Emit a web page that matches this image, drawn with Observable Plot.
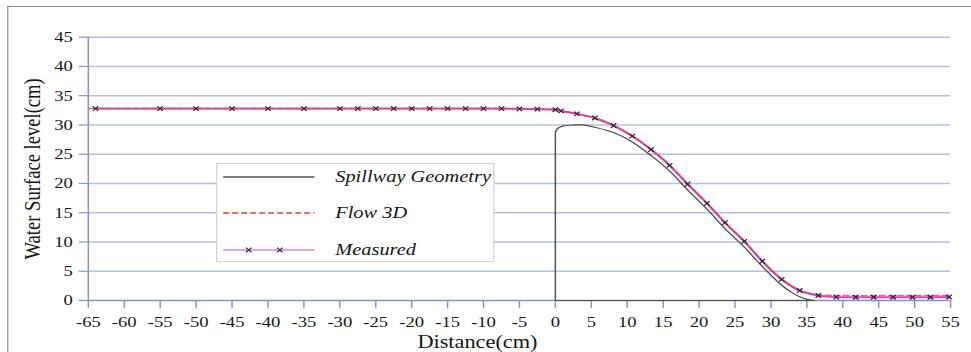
<!DOCTYPE html>
<html>
<head>
<meta charset="utf-8">
<script src="https://cdn.jsdelivr.net/npm/d3@7"></script>
<script src="https://cdn.jsdelivr.net/npm/@observablehq/plot@0.6"></script>
<style>
  html, body { margin: 0; padding: 0; background: #fff; overflow: hidden; }
  #wrap { position: absolute; left: 0; top: 0; height: 352px; transform-origin: 0 0; }
  #frame { position: absolute; left: 6px; top: 6px; width: 900px; height: 400px;
           border-left: 1.5px solid #8a8a8a; border-top: 1.5px solid #8a8a8a; }
  #chart { position: absolute; left: 0; top: 0; }
  #legend { position: absolute; background: #fff; border: 1px solid #d4d4d4; box-sizing: border-box;
            font-family: "Liberation Serif", "Times New Roman", serif; font-style: italic; font-size: 17px; color: #161616; }
  .row { position: absolute; left: 0; display: flex; align-items: center; height: 20px; }
  .row svg { display: block; }
  .row span { position: absolute; white-space: nowrap; }
</style>
</head>
<body>
<div id="wrap">
  <div id="frame"></div>
  <div id="chart"></div>
  <div id="legend"></div>
</div>
<script>
// Axis ticks
const xTicks = [-65, -60, -55, -50, -45, -40, -35, -30, -25, -20, -15, -10, -5, 0, 5, 10, 15, 20, 25, 30, 35, 40, 45, 50, 55];
const yTicks = [0, 5, 10, 15, 20, 25, 30, 35, 40, 45];
const xTitle = "Distance(cm)";
const yTitle = "Water Surface level(cm)";

// Spillway crest profile (cm): upstream face, crest, downstream face, back along the floor
const geomX = [0, 0, 0.3, 1.0, 2.4, 3.8, 5.5, 8.1, 10.7, 13.3, 15.9, 18.4, 21.1, 23.6, 26.3, 28.8, 31.5, 33.0, 34.0, 35.0, 36.0, 0];
const geomY = [0, 28.8, 29.4, 29.8, 30.0, 30.0, 29.6, 28.7, 27.1, 24.8, 22.1, 18.9, 15.6, 12.3, 9.1, 5.8, 2.6, 1.3, 0.65, 0.2, 0, 0];

// Flow 3D simulated water surface (cm)
const flowX = [-65, -50, -30, -10, -2, 0, 2, 4, 6, 8, 10, 12, 14, 16, 18, 20, 22, 24, 26, 28, 30, 32, 34, 36, 38, 40, 45, 50, 55];
const flowY = [32.8, 32.8, 32.8, 32.8, 32.75, 32.6, 32.15, 31.6, 30.95, 29.95, 28.6, 27.0, 25.2, 23.0, 20.4, 18.0, 15.5, 12.8, 10.4, 7.8, 5.3, 3.2, 1.8, 1.05, 0.9, 0.85, 0.85, 0.85, 0.85];

// Measured water surface (cm)
const measX = [-64, -55, -50, -45, -40, -35, -30, -27.5, -25, -22.5, -20, -17.5, -15, -12.5, -10, -7.5, -5, -2.5,
               0, 0.8, 3.0, 5.5, 8.1, 10.7, 13.3, 15.9, 18.4, 21.1, 23.6, 26.3, 28.8, 31.5, 34.0, 36.6, 39.1, 41.8, 44.3, 47.0, 49.7, 52.2, 54.8];
const measY = [32.8, 32.8, 32.8, 32.8, 32.8, 32.8, 32.8, 32.8, 32.8, 32.8, 32.8, 32.8, 32.8, 32.8, 32.8, 32.8, 32.75, 32.7,
               32.6, 32.4, 31.9, 31.2, 29.9, 28.1, 25.8, 23.1, 19.9, 16.6, 13.3, 10.1, 6.7, 3.6, 1.7, 0.85, 0.57, 0.55, 0.55, 0.55, 0.55, 0.55, 0.6];

const seriesNames = ["Spillway Geometry", "Flow 3D", "Measured"];

const STRETCH = 1.2;          // the figure is drawn slightly wider than tall
const W = 971 / STRETCH;
const H = 352;
const SERIF = "'Liberation Serif', 'Times New Roman', serif";
const AXIS = "#8492c6";
const GRID = "#b6bee0";
const GEOM = "#4d4d4d";
const FLOW = "#e4402e";
const MEAS = "#cf48c9";
const MARK = "#3c2448";

const zip = (xs, ys) => xs.map((x, i) => ({x, y: ys[i]}));
const geom = zip(geomX, geomY);
const crest = geom.slice(1, geom.length - 1);                         // curved profile
const edges = [geom[geom.length - 2], geom[0], geom[1]];             // floor + upstream wall
const flow = zip(flowX, flowY);
const meas = zip(measX, measY);

const wrap = document.getElementById("wrap");
wrap.style.width = W + "px";
wrap.style.transform = `scaleX(${STRETCH})`;

const chart = Plot.plot({
  width: W,
  height: H,
  marginLeft: 73.1,
  marginRight: 17.5,
  marginTop: 36.7,
  marginBottom: 52,
  x: {domain: [-65, 55]},
  y: {domain: [0, 45]},
  style: {fontFamily: SERIF, fontSize: "15.5px", color: "#161616", background: "transparent"},
  marks: [
    Plot.gridY({ticks: yTicks.filter(v => v > 0), stroke: GRID, strokeOpacity: 1, strokeWidth: 1.6}),
    Plot.axisX({ticks: xTicks, tickSize: 8, tickPadding: 7.5, stroke: AXIS, strokeWidth: 1.2, tickFormat: String, label: null}),
    Plot.axisY({ticks: yTicks, tickSize: 7.5, tickPadding: 5.5, stroke: AXIS, strokeWidth: 1.2, tickFormat: String, label: null}),
    Plot.ruleY([0], {stroke: AXIS, strokeWidth: 1.3}),
    Plot.ruleX([-65], {stroke: AXIS, strokeWidth: 1.3}),
    Plot.line(edges, {x: "x", y: "y", stroke: GEOM, strokeWidth: 1.2}),
    Plot.line(crest, {x: "x", y: "y", stroke: GEOM, strokeWidth: 1.2, curve: "catmull-rom"}),
    Plot.line(meas, {x: "x", y: "y", stroke: MEAS, strokeWidth: 2, curve: "catmull-rom"}),
    Plot.line(flow, {x: "x", y: "y", stroke: FLOW, strokeWidth: 1.3, strokeDasharray: "5,2.5", strokeOpacity: 0.75, curve: "catmull-rom"}),
    Plot.dot(meas, {x: "x", y: "y", symbol: "times", r: 2.2, stroke: MARK, strokeWidth: 1.2}),
    Plot.text([yTitle], {text: d => d, frameAnchor: "left", textAnchor: "middle", lineAnchor: "middle",
                         dx: -46.4, rotate: -90}),
    Plot.text([xTitle], {text: d => d, frameAnchor: "bottom", textAnchor: "middle", lineAnchor: "middle",
                         dx: -35, dy: 42})
  ]
});
// Typeface and sizes for every label in the figure
d3.select(chart).selectAll("text").each(function() {
  const isTitle = this.textContent === xTitle || this.textContent === yTitle;
  this.style.fontFamily = SERIF;
  this.style.fontSize = isTitle ? "18.6px" : "15.5px";
  this.style.fill = "#161616";
});
document.getElementById("chart").append(chart);

// Legend box drawn over the plot area
const legend = d3.select("#legend")
  .style("left", "179.75px").style("top", "163.3px")
  .style("width", "232.2px").style("height", "98.4px");
const rowY = [12.4, 49, 86];
const styles = [
  {stroke: GEOM, width: 1.4, dash: null, marks: false},
  {stroke: FLOW, width: 1.6, dash: "5,2.5", marks: false},
  {stroke: MEAS, width: 1.1, dash: null, marks: true}
];
seriesNames.forEach((name, i) => {
  const row = legend.append("div").attr("class", "row").style("top", (rowY[i] - 10) + "px").style("width", "232px");
  const svg = row.append("svg").attr("width", 86).attr("height", 20);
  const ln = svg.append("line").attr("x1", 5).attr("x2", 81).attr("y1", 10).attr("y2", 10)
    .attr("stroke", styles[i].stroke).attr("stroke-width", styles[i].width);
  if (styles[i].dash) ln.attr("stroke-dasharray", styles[i].dash);
  if (styles[i].marks) {
    [26.3, 52.2].forEach(cx => {
      svg.append("path").attr("d", d3.symbol(d3.symbolTimes, Math.PI * 2.2 * 2.2)())
        .attr("transform", `translate(${cx},10)`).attr("fill", "none")
        .attr("stroke", MARK).attr("stroke-width", 1.1);
    });
  }
  row.append("span").style("left", "98.6px").text(name);
});
</script>
</body>
</html>
